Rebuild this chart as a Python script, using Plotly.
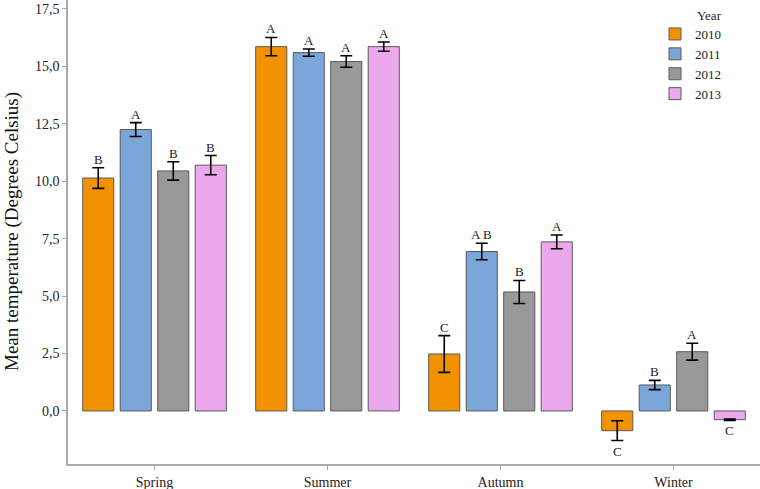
import plotly.graph_objects as go

seasons = ["Spring", "Summer", "Autumn", "Winter"]
years = ["2010", "2011", "2012", "2013"]
colors = ["#F39200", "#7BA6DA", "#999999", "#ECA8EC"]

mean_2010 = [10.14, 15.86, 2.48, -0.86]
mean_2011 = [12.25, 15.60, 6.94, 1.13]
mean_2012 = [10.45, 15.21, 5.18, 2.58]
mean_2013 = [10.70, 15.86, 7.36, -0.38]

err_2010 = [0.45, 0.40, 0.80, 0.43]
err_2011 = [0.30, 0.16, 0.36, 0.20]
err_2012 = [0.40, 0.25, 0.50, 0.37]
err_2013 = [0.42, 0.20, 0.30, 0.03]

letters_2010 = ["B", "A", "C", "C"]
letters_2011 = ["A", "A", "A B", "B"]
letters_2012 = ["B", "A", "B", "A"]
letters_2013 = ["B", "A", "A", "C"]

means = [mean_2010, mean_2011, mean_2012, mean_2013]
errs = [err_2010, err_2011, err_2012, err_2013]
letters = [letters_2010, letters_2011, letters_2012, letters_2013]

bargap = 0.133
serif = "Liberation Serif, Times New Roman, serif"

fig = go.Figure()
xs = list(range(len(seasons)))
for j, yr in enumerate(years):
    fig.add_trace(go.Bar(
        x=xs, y=means[j], name=yr,
        marker=dict(color=colors[j], line=dict(color="#5a5a5a", width=1)),
        error_y=dict(type="data", array=errs[j], color="black", thickness=1.6, width=6),
    ))

annotations = []
slot = (1 - bargap) / len(years)
for j in range(len(years)):
    for i in range(len(seasons)):
        xpos = i + (j - 1.5) * slot
        m, e = means[j][i], errs[j][i]
        if m >= 0:
            annotations.append(dict(x=xpos, y=m + e, text=letters[j][i], showarrow=False,
                                    yanchor="bottom", yshift=-1,
                                    font=dict(family=serif, size=13, color="#222")))
        else:
            annotations.append(dict(x=xpos, y=m - e, text=letters[j][i], showarrow=False,
                                    yanchor="top", yshift=-1,
                                    font=dict(family=serif, size=13, color="#222")))

annotations.append(dict(xref="paper", yref="paper", x=(695 - 68) / 692, y=(464 - 16) / 464,
                        text="Year", showarrow=False, xanchor="left", yanchor="middle",
                        font=dict(family=serif, size=13, color="#222")))
annotations.append(dict(xref="paper", yref="paper", x=(12 - 68) / 692, y=(464 - 232) / 464,
                        text="Mean temperature (Degrees Celsius)", showarrow=False,
                        textangle=-90, xanchor="center", yanchor="middle",
                        font=dict(family=serif, size=19, color="#111")))

fig.update_layout(
    width=760, height=489,
    margin=dict(l=68, r=0, t=0, b=25, autoexpand=False),
    plot_bgcolor="white", paper_bgcolor="white",
    barmode="group", bargap=bargap, bargroupgap=0.17,
    separators=",.",
    annotations=annotations,
    font=dict(family=serif, color="#222"),
    legend=dict(
        font=dict(family=serif, size=13, color="#222"),
        x=(655 - 68) / 692, y=(464 - 19) / 464, xanchor="left", yanchor="top",
        bgcolor="rgba(0,0,0,0)", tracegroupgap=0, borderwidth=0,
    ),
    xaxis=dict(
        range=[-0.5, 3.5], tickmode="array", tickvals=xs, ticktext=seasons,
        showline=True, linecolor="#aaaaaa", linewidth=1.5,
        ticks="outside", tickcolor="#aaaaaa", ticklen=4,
        showgrid=False, zeroline=False, automargin=False,
        tickfont=dict(family=serif, size=14, color="#222"),
    ),
    yaxis=dict(
        range=[-2.31, 17.89], tickmode="array",
        tickvals=[0, 2.5, 5, 7.5, 10, 12.5, 15, 17.5], tickformat=".1f",
        showline=True, linecolor="#aaaaaa", linewidth=1.5,
        ticks="outside", tickcolor="#aaaaaa", ticklen=4,
        showgrid=False, zeroline=False, automargin=False,
        tickfont=dict(family=serif, size=14, color="#222"),
    ),
)

fig.write_html("out.html", config={"displayModeBar": False},
               post_script="document.body.style.margin='0px';")
